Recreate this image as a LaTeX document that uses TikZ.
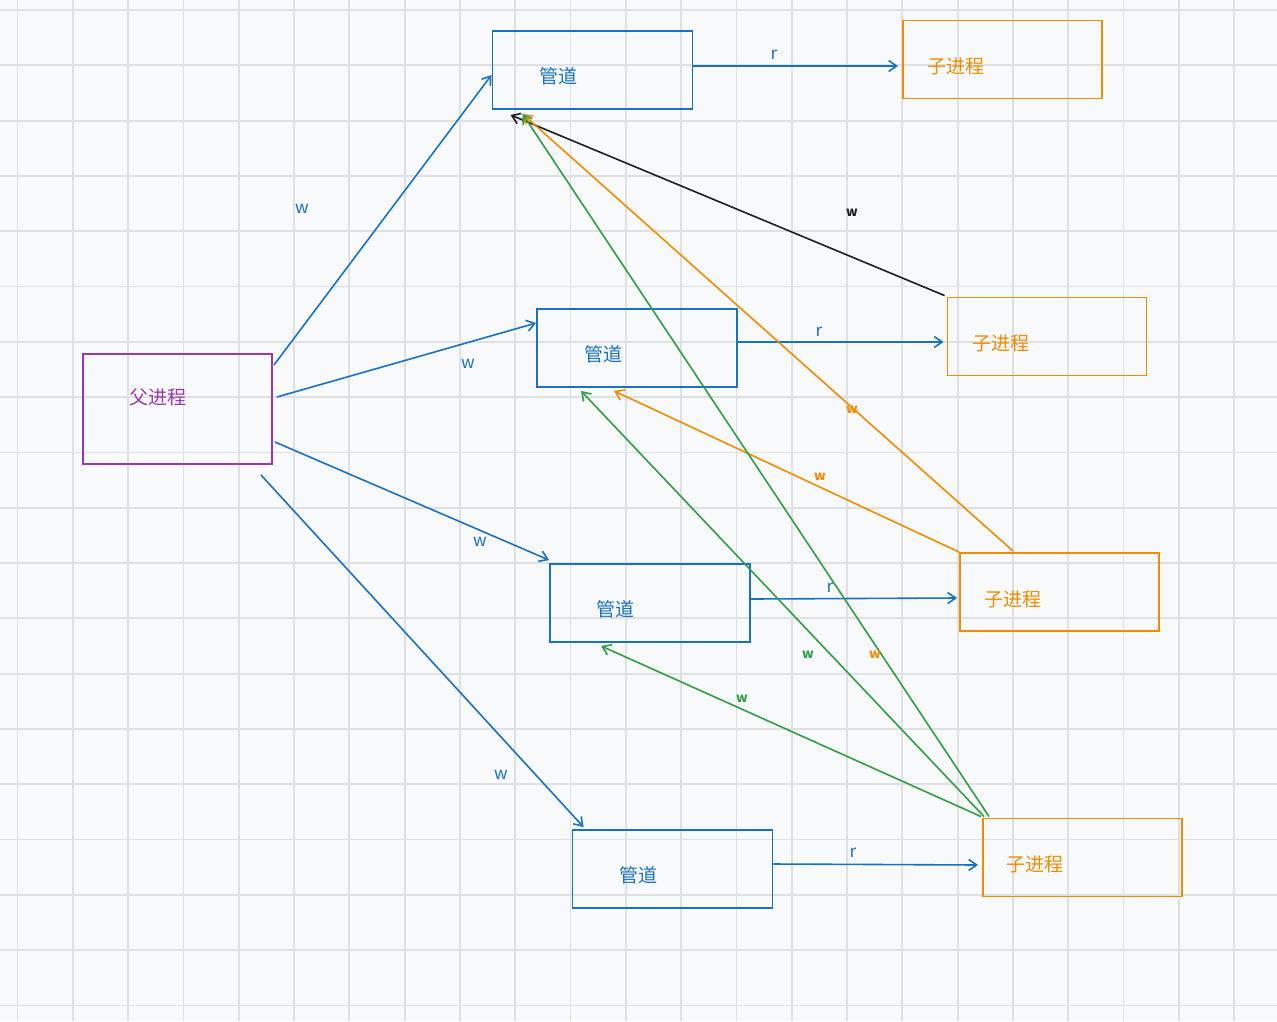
\documentclass[tikz,border=0pt]{standalone}
\usepackage{fontspec}
\setmainfont{Noto Sans CJK SC}
\usetikzlibrary{arrows.meta}
\definecolor{bg}{HTML}{F8F9FA}
\definecolor{gridc}{HTML}{DEE0E3}
\definecolor{cblue}{HTML}{1971C2}
\definecolor{corange}{HTML}{F08C00}
\definecolor{cpurple}{HTML}{9C36B5}
\definecolor{cgreen}{HTML}{2F9E44}
\definecolor{cblack}{HTML}{1E1E1E}
\tikzset{
  box/.style={draw, line width=1.9pt, minimum width=#1, inner sep=0pt},
  pipebox/.style={box=200pt, minimum height=78pt, cblue},
  childbox/.style={box=199pt, minimum height=78pt, corange},
  txt/.style={font=\fontsize{19}{22}\selectfont, inner sep=0pt},
  lbl/.style={font=\fontsize{17}{20}\selectfont, inner sep=0pt, text=cblue},
  slbl/.style={font=\fontsize{13}{15}\selectfont\bfseries, inner sep=0pt},
  conn/.style={line width=1.6pt, -{Straight Barb[length=8pt,width=11pt]}},
}
\begin{document}
\begin{tikzpicture}[x=1pt,y=-1pt]
\fill[bg] (0,0) rectangle (1277,1021);
\useasboundingbox (0,0) rectangle (1277,1021);
% grid
\foreach \i in {0,...,22} {\draw[gridc, line width=1.8pt] ({17.5+55.3*\i},0) -- ({17.5+55.3*\i},1021);}
\foreach \j in {0,...,18} {\draw[gridc, line width=1.8pt] (0,{10+55.3*\j}) -- (1277,{10+55.3*\j});}

% boxes
\node[box=189pt, minimum height=110pt, cpurple] (par) at (177.5,409) {};
\node[txt, text=cpurple] (tpar) at (158,397) {父进程};

\node[pipebox] (p1) at (592.5,70) {};
\node[pipebox] (p2) at (637,348) {};
\node[pipebox] (p3) at (650,603) {};
\node[pipebox] (p4) at (672.5,869) {};
\node[txt, text=cblue] (tp1) at (558,76) {管道};
\node[txt, text=cblue] (tp2) at (603,354) {管道};
\node[txt, text=cblue] (tp3) at (615,609) {管道};
\node[txt, text=cblue] (tp4) at (638,875) {管道};

\node[childbox] (c1) at (1002.5,59.5) {};
\node[childbox] (c2) at (1047,336.5) {};
\node[childbox] (c3) at (1059.5,592) {};
\node[childbox] (c4) at (1082.5,857.5) {};
\node[txt, text=corange] (tc1) at (956,66) {子进程};
\node[txt, text=corange] (tc2) at (1001,343) {子进程};
\node[txt, text=corange] (tc3) at (1013,599) {子进程};
\node[txt, text=corange] (tc4) at (1035,864) {子进程};

% parent -> pipes
\draw[conn, cblue] ([xshift=1pt,yshift=-12pt]par.north east) -- ([yshift=-5pt]p1.west);
\draw[conn, cblue] ([xshift=4pt,yshift=12pt]par.east) -- ([yshift=-15pt]p2.north west);
\draw[conn, cblue] ([xshift=2pt,yshift=-33pt]par.east) -- ([yshift=3pt]p3.north west);
\draw[conn, cblue] ([xshift=-12pt,yshift=-10pt]par.south east) -- ([xshift=12pt,yshift=2pt]p4.north west);

% pipes -> children (r)
\draw[conn, cblue] ([yshift=4pt]p1.east) -- ([xshift=-4pt,yshift=4pt]p1.east -| c1.west);
\draw[conn, cblue] ([yshift=6pt]p2.east) -- ([xshift=-3pt,yshift=6pt]p2.east -| c2.west);
\draw[conn, cblue] ([yshift=4pt]p3.east) -- ([xshift=-2pt,yshift=5pt]p3.east -| c3.west);
\draw[conn, cblue] ([yshift=5pt]p4.east) -- ([xshift=-4pt,yshift=4pt]p4.east -| c4.west);

% children -> pipes (w)
\draw[conn, cblack] ([xshift=-2pt,yshift=1pt]c2.north west) -- ([xshift=19pt,yshift=-5pt]p1.south west);
\draw[conn, corange] ([xshift=54pt,yshift=1pt]c3.north west) -- ([xshift=31pt,yshift=-4pt]p1.south west);
\draw[conn, corange] (c3.north west) -- ([xshift=78pt,yshift=-3pt]p2.south west);
\draw[conn, cgreen] ([xshift=7pt,yshift=1pt]c4.north west) -- ([xshift=31pt,yshift=-4pt]p1.south west);
\draw[conn, cgreen] ([xshift=2pt,yshift=1pt]c4.north west) -- ([xshift=45pt,yshift=-3pt]p2.south west);
\draw[conn, cgreen] ([xshift=-1pt,yshift=1pt]c4.north west) -- ([xshift=52pt,yshift=-3pt]p3.south west);

% labels
\node[lbl] (l1) at (302,209) {w};
\node[lbl] (l2) at (468,364) {w};
\node[lbl] (l3) at (480,542) {w};
\node[lbl] (l4) at (501,775) {w};
\node[lbl] (r1) at (774,55) {r};
\node[lbl] (r2) at (819,332) {r};
\node[lbl] (r3) at (830,588) {r};
\node[lbl] (r4) at (853,853) {r};
\node[slbl, text=cblack] (lb) at (852,213) {w};
\node[slbl, text=corange] (lo1) at (852,410) {w};
\node[slbl, text=corange] (lo2) at (820,477) {w};
\node[slbl, text=corange] (lo3) at (875,655) {w};
\node[slbl, text=cgreen] (lg1) at (808,655) {w};
\node[slbl, text=cgreen] (lg2) at (742,699) {w};
\end{tikzpicture}
\end{document}
